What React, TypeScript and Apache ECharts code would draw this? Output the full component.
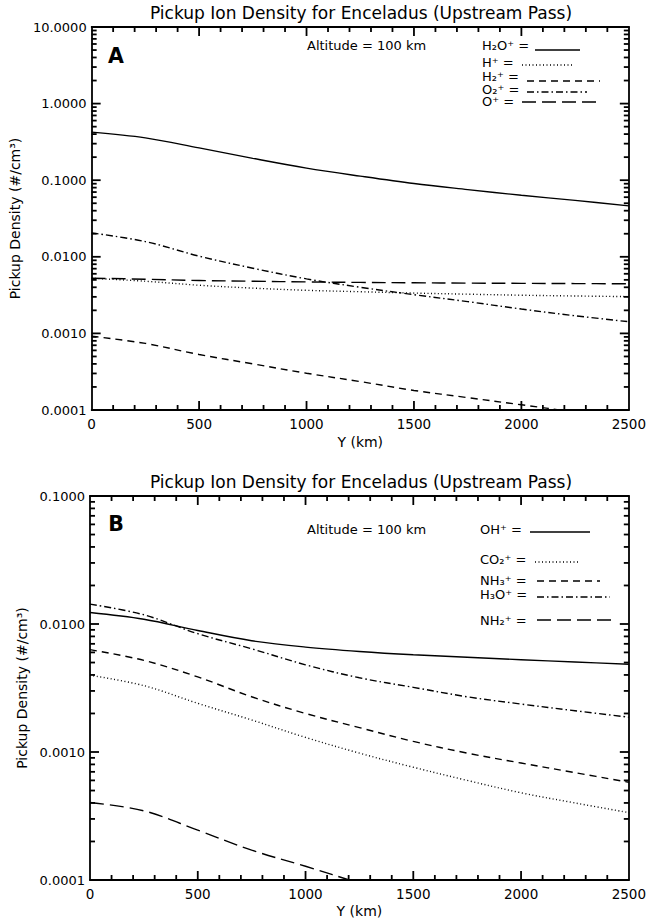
import React, { useEffect, useRef } from "react";
import * as echarts from "echarts";

const FONT = "DejaVu Sans";
const TITLE = "Pickup Ion Density for Enceladus (Upstream Pass)";
const Y_NAME = "Pickup Density (#/cm³)";
const X_NAME = "Y (km)";
const ALT_TEXT = "Altitude = 100 km";

// x positions along the pass (km)
const X_KM = [0, 250, 500, 750, 1000, 1250, 1500, 1750, 2000, 2250, 2500];

// Panel A densities (#/cm^3)
const A_H2O = [0.424, 0.357, 0.264, 0.193, 0.144, 0.113, 0.0904, 0.0754, 0.0635, 0.0546, 0.0462];
const A_H = [0.00525, 0.0048, 0.00425, 0.0039, 0.00365, 0.0035, 0.00336, 0.00325, 0.00315, 0.00308, 0.00302];
const A_H2 = [0.00092, 0.00074, 0.00053, 0.0004, 0.000302, 0.000235, 0.00018, 0.000145, 0.000117, 0.000094, 0.000076];
const A_O2 = [0.0205, 0.0158, 0.0102, 0.0071, 0.00515, 0.004, 0.0032, 0.0026, 0.00208, 0.0017, 0.00142];
const A_O = [0.00525, 0.0051, 0.0049, 0.0048, 0.0047, 0.00463, 0.00458, 0.00453, 0.0045, 0.00447, 0.00445];

// Panel B densities (#/cm^3)
const B_OH = [0.0123, 0.0109, 0.0089, 0.0074, 0.0066, 0.0061, 0.00575, 0.0055, 0.00526, 0.00505, 0.00485];
const B_CO2 = [0.00398, 0.0033, 0.0024, 0.00178, 0.0013, 0.00098, 0.00076, 0.0006, 0.00048, 0.0004, 0.000336];
const B_NH3 = [0.0063, 0.0052, 0.00386, 0.0027, 0.002, 0.00155, 0.00121, 0.00098, 0.00082, 0.00069, 0.00058];
const B_H3O = [0.0143, 0.0118, 0.0084, 0.0064, 0.0048, 0.0038, 0.0032, 0.0027, 0.00237, 0.0021, 0.00187];
const B_NH2 = [0.000403, 0.000347, 0.000245, 0.000171, 0.000128, 0.0000945, 0.00007];

// legend labels
const LABELS_A = ["H₂O⁺ =", "H⁺ =", "H₂⁺ =", "O₂⁺ =", "O⁺ ="];
const LABELS_B = ["OH⁺ =", "CO₂⁺ =", "NH₃⁺ =", "H₃O⁺ =", "NH₂⁺ ="];

// axis ranges
const X_MIN = 0;
const X_MAX = 2500;
const X_STEP = 500;
const X_MINOR_STEP = 100;
const A_YMIN = 0.0001;
const A_YMAX = 10;
const B_YMIN = 0.0001;
const B_YMAX = 0.1;

// line styles
const SOLID = "solid";
const DOTTED = [1, 2.5];
const DASHED = [7, 5];
const DASHDOT = [7, 3, 1.5, 3];
const LONGDASH = [14, 6];

function lineSeries(vals: number[], dash: any, xi: number, yi: number) {
  return {
    type: "line",
    xAxisIndex: xi,
    yAxisIndex: yi,
    data: vals.map((v, i) => [X_KM[i], v]),
    showSymbol: false,
    symbol: "none",
    smooth: 0.35,
    clip: true,
    silent: true,
    z: 3,
    lineStyle: { color: "#000", width: 1.4, type: dash },
  };
}

function range(a: number, b: number, step: number) {
  const out: number[] = [];
  for (let v = a; v <= b + 1e-9; v += step) out.push(v);
  return out;
}

function logMajor(yMin: number, yMax: number) {
  const out: number[] = [];
  for (let e = Math.round(Math.log10(yMin)); e <= Math.round(Math.log10(yMax)); e++) out.push(Math.pow(10, e));
  return out;
}

function logMinor(yMin: number, yMax: number) {
  const out: number[] = [];
  for (let e = Math.round(Math.log10(yMin)); e < Math.round(Math.log10(yMax)); e++)
    for (let k = 2; k <= 9; k++) out.push(k * Math.pow(10, e));
  return out;
}

function xAxes(gi: number, nameGap: number) {
  const common = {
    gridIndex: gi,
    type: "value",
    min: X_MIN,
    max: X_MAX,
    interval: X_STEP,
    splitLine: { show: false },
    axisLine: { show: true, onZero: false, lineStyle: { color: "#000", width: 1.8 } },
    axisTick: { show: false },
    minorTick: { show: false },
  };
  return [
    {
      ...common,
      position: "bottom",
      name: X_NAME,
      nameLocation: "middle",
      nameGap,
      nameTextStyle: { fontFamily: FONT, fontSize: 14, color: "#000" },
      axisLabel: {
        show: true,
        margin: 7,
        fontFamily: FONT,
        fontSize: 13.5,
        color: "#000",
        formatter: (v: number) => String(v),
      },
    },
    { ...common, position: "top", axisLabel: { show: false } },
  ];
}

function yAxes(gi: number, yMin: number, yMax: number, nameGap: number) {
  const common = {
    gridIndex: gi,
    type: "log",
    logBase: 10,
    min: yMin,
    max: yMax,
    splitNumber: Math.round(Math.log10(yMax / yMin)),
    splitLine: { show: false },
    axisLine: { show: true, onZero: false, lineStyle: { color: "#000", width: 1.8 } },
    axisTick: { show: false },
  };
  return [
    {
      ...common,
      position: "left",
      name: Y_NAME,
      nameLocation: "middle",
      nameGap,
      nameTextStyle: { fontFamily: FONT, fontSize: 14, color: "#000" },
      axisLabel: {
        show: true,
        margin: 5,
        fontFamily: FONT,
        fontSize: 13,
        color: "#000",
        formatter: (v: number) => Number(v).toFixed(4),
      },
    },
    { ...common, position: "right", axisLabel: { show: false } },
  ];
}

function txt(x: number, y: number, text: string, size: number, extra: any = {}) {
  return {
    type: "text",
    x,
    y,
    silent: true,
    style: {
      text,
      fontSize: size,
      fontFamily: FONT,
      fill: "#000",
      align: extra.align || "left",
      textAlign: extra.align || "left",
      verticalAlign: "middle",
      textVerticalAlign: "middle",
      fontWeight: extra.fontWeight || "normal",
      lineHeight: extra.lineHeight,
    },
  };
}

function seg(x1: number, y1: number, x2: number, y2: number, dash: any = null, w = 1.3) {
  return {
    type: "line",
    silent: true,
    z: 10,
    shape: { x1, y1, x2, y2 },
    style: { stroke: "#000", lineWidth: w, lineDash: dash === "solid" ? null : dash },
  };
}

function box(x: number, y: number, w: number, h: number) {
  return {
    type: "rect",
    silent: true,
    z: 20,
    shape: { x: Math.min(x, x + w), y: Math.min(y, y + h), width: Math.abs(w), height: Math.abs(h) },
    style: { fill: "#000" },
  };
}

export default function App() {
  const ref = useRef<HTMLDivElement>(null);
  useEffect(() => {
    if (!ref.current) return;
    const chart = echarts.init(ref.current, null, { renderer: "svg" });

    const legA = [
      { ty: 45, ly: 50, x1: 535, x2: 580, dash: SOLID },
      { ty: 62, ly: 65, x1: 522, x2: 573, dash: DOTTED },
      { ty: 76.5, ly: 81, x1: 527, x2: 600, dash: DASHED },
      { ty: 89, ly: 92, x1: 527, x2: 587, dash: DASHDOT },
      { ty: 101, ly: 102, x1: 522, x2: 600, dash: LONGDASH },
    ];
    const legB = [
      { ty: 529, ly: 532, x1: 530, x2: 590, dash: SOLID },
      { ty: 559, ly: 562, x1: 535, x2: 580, dash: DOTTED },
      { ty: 580, ly: 581, x1: 537, x2: 600, dash: DASHED },
      { ty: 594, ly: 597, x1: 537, x2: 610, dash: DASHDOT },
      { ty: 620, ly: 620, x1: 537, x2: 612, dash: LONGDASH },
    ];

    const graphics: any[] = [
      txt(361, 13, TITLE, 17, { align: "center" }),
      txt(361, 482, TITLE, 17, { align: "center" }),
      txt(116, 56, "A", 20.5, { align: "center", fontWeight: "bold" }),
      txt(116, 524, "B", 20.5, { align: "center", fontWeight: "bold" }),
      txt(307, 45, ALT_TEXT, 13),
      txt(307, 529, ALT_TEXT, 13),
    ];
    legA.forEach((l, i) => {
      graphics.push(txt(482, l.ty, LABELS_A[i], 13, { lineHeight: 11 }));
      graphics.push(seg(l.x1, l.ly, l.x2, l.ly, l.dash));
    });
    legB.forEach((l, i) => {
      graphics.push(txt(480, l.ty, LABELS_B[i], 13, { lineHeight: 11 }));
      graphics.push(seg(l.x1, l.ly, l.x2, l.ly, l.dash));
    });

    const option: any = {
      animation: false,
      backgroundColor: "#fff",
      grid: [
        { left: 90, top: 27, width: 542, height: 383, show: false },
        { left: 90, top: 496, width: 542, height: 384, show: false },
      ],
      xAxis: [...xAxes(0, 25), ...xAxes(1, 24)],
      yAxis: [...yAxes(0, A_YMIN, A_YMAX, 66), ...yAxes(1, B_YMIN, B_YMAX, 58)],
      series: [
        lineSeries(A_H2O, SOLID, 0, 0),
        lineSeries(A_H, DOTTED, 0, 0),
        lineSeries(A_H2, DASHED, 0, 0),
        lineSeries(A_O2, DASHDOT, 0, 0),
        lineSeries(A_O, LONGDASH, 0, 0),
        lineSeries(B_OH, SOLID, 2, 2),
        lineSeries(B_CO2, DOTTED, 2, 2),
        lineSeries(B_NH3, DASHED, 2, 2),
        lineSeries(B_H3O, DASHDOT, 2, 2),
        lineSeries(B_NH2, LONGDASH, 2, 2),
      ],
      graphic: { elements: graphics },
    };
    chart.setOption(option);

    // tick marks as filled rects, positioned through each panel's series coordinate system
    const ticks: any[] = [];
    const TW = 1.8;
    const panels = [
      { si: 0, yMin: A_YMIN, yMax: A_YMAX },
      { si: 5, yMin: B_YMIN, yMax: B_YMAX },
    ];
    panels.forEach((p) => {
      const pt = (x: number, y: number) => chart.convertToPixel({ seriesIndex: p.si }, [x, y]) as number[];
      const bl = pt(X_MIN, p.yMin);
      const tr = pt(X_MAX, p.yMax);
      if (!bl || !tr) return;
      const xL = bl[0], yB = bl[1], xR = tr[0], yT = tr[1];
      range(X_MIN, X_MAX, X_MINOR_STEP).forEach((x) => {
        if (x === X_MIN || x === X_MAX) return;
        const len = x % X_STEP === 0 ? 9 : 5;
        const X = pt(x, p.yMin)[0];
        ticks.push(box(X - TW / 2, yB, TW, -len));
        ticks.push(box(X - TW / 2, yT, TW, len));
      });
      logMajor(p.yMin, p.yMax).forEach((v) => {
        const Y = pt(X_MIN, v)[1];
        ticks.push(box(xL, Y - TW / 2, 9, TW));
        ticks.push(box(xR, Y - TW / 2, -9, TW));
      });
      logMinor(p.yMin, p.yMax).forEach((v) => {
        const Y = pt(X_MIN, v)[1];
        ticks.push(box(xL, Y - TW / 2, 5, TW));
        ticks.push(box(xR, Y - TW / 2, -5, TW));
      });
    });
    chart.setOption({ graphic: { elements: [...graphics, ...ticks] } });

    return () => chart.dispose();
  }, []);

  return (
    <div
      ref={ref}
      style={{ position: "fixed", left: 0, top: 0, width: 649, height: 922, background: "#fff" }}
    />
  );
}
